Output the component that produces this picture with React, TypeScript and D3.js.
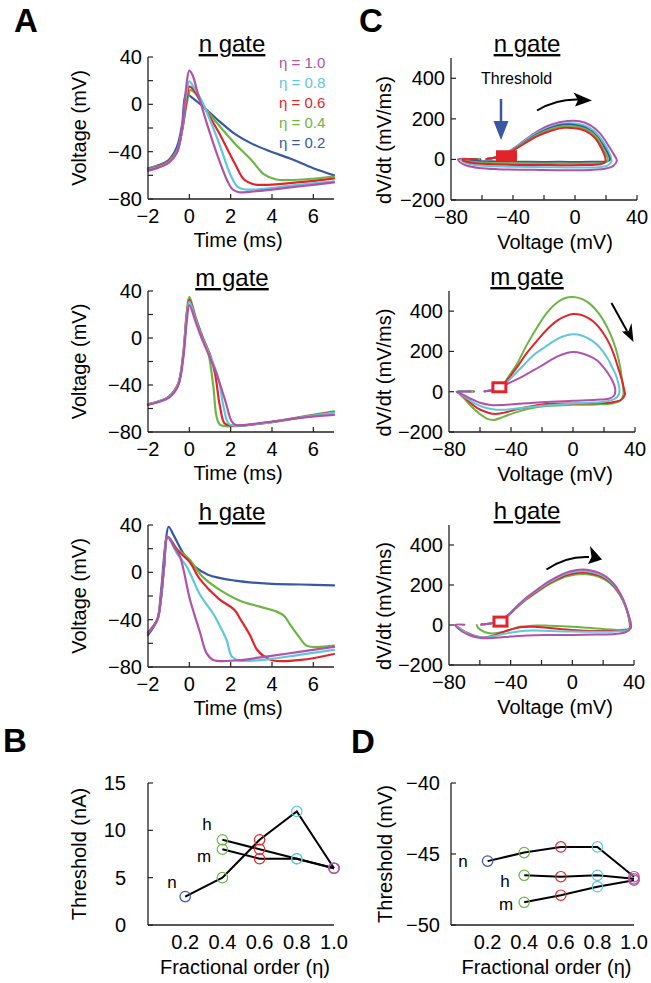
import React from 'react';
import * as d3 from 'd3';

const FONT = "'Liberation Sans', Arial, Helvetica, sans-serif";
const AX = '#231f20';
const C10 = '#b152a8';
const C08 = '#5fc7dc';
const C06 = '#e3232a';
const C04 = '#6cb544';
const C02 = '#3a57a6';

type P = [number, number];

// ---------- Panel A: voltage traces [time ms, V mV] ----------
const nGateEta10: P[] = [[-2,-56],[-1.5,-53.5],[-1,-49.5],[-0.6,-41],[-0.35,-20],[-0.18,10],[0,28.5],[0.15,25],[0.4,10],[0.9,-19],[1.4,-45],[1.85,-65],[2.1,-72],[2.4,-74.3],[3,-73.8],[4,-72],[5.5,-69],[7,-66]];
const nGateEta08: P[] = [[-2,-55.5],[-1.5,-53],[-1,-49],[-0.6,-40.5],[-0.35,-21],[-0.15,8],[0,19.5],[0.2,15],[0.6,3],[1.4,-31],[2,-60],[2.35,-70],[2.7,-72],[3.5,-71.5],[5,-68.5],[7,-65]];
const nGateEta06: P[] = [[-2,-55],[-1.5,-52.5],[-1,-48.5],[-0.6,-40],[-0.35,-22],[-0.12,5],[0,15],[0.2,12.5],[0.6,1],[1.4,-23],[2.2,-50],[2.65,-63.5],[3.1,-67.5],[3.8,-68],[5.5,-65.5],[7,-62.5]];
const nGateEta04: P[] = [[-2,-54.5],[-1.5,-52],[-1,-48],[-0.6,-39],[-0.35,-22],[-0.1,3],[0.05,12],[0.3,9],[0.7,-2],[1.4,-17],[2.2,-33],[3,-47],[3.6,-59],[4.2,-63.5],[5.5,-63.5],[7,-61]];
const nGateEta02: P[] = [[-2,-54],[-1.5,-51.5],[-1,-47],[-0.6,-36],[-0.35,-17],[-0.15,9],[0.1,6],[0.6,-1],[1.4,-13.5],[2.2,-25],[3,-33],[3.8,-39],[4.9,-46],[6,-54],[7,-60]];

const mGateEta10: P[] = [[-2,-57],[-1.5,-54.5],[-1,-51],[-0.55,-41],[-0.3,-18],[-0.12,15],[0,28],[0.3,14],[0.6,-0.3],[1.24,-27],[1.73,-52.8],[2.05,-71],[2.25,-74],[3.8,-71.5],[5.4,-68],[7,-65.5]];
const mGateEta08: P[] = [[-2,-56.5],[-1.5,-54],[-1,-50.5],[-0.55,-40],[-0.3,-16],[-0.12,19],[0,31],[0.3,16],[0.6,1],[1.0,-15],[1.4,-34],[1.65,-58],[1.9,-73],[2.2,-74.5],[3.8,-72],[5.4,-67.5],[7,-63.5]];
const mGateEta06: P[] = [[-2,-56.5],[-1.5,-54],[-1,-50],[-0.55,-39.5],[-0.3,-15],[-0.12,21],[0,32.5],[0.3,17],[0.6,2],[1.0,-14],[1.24,-30],[1.48,-58],[1.7,-72.5],[2,-74.5],[3.8,-72],[5.4,-67.5],[7,-63]];
const mGateEta04: P[] = [[-2,-56.5],[-1.5,-54],[-1,-50],[-0.55,-39],[-0.3,-14],[-0.12,23],[0,35],[0.3,18],[0.6,3],[0.92,-13],[1.16,-41],[1.32,-67],[1.5,-74],[2.2,-75],[3.8,-72],[5.4,-67],[7,-62.5]];

const hGateEta10: P[] = [[-2,-51],[-1.55,-40],[-1.38,-23],[-1.22,5],[-1.05,30],[-0.75,22],[-0.45,13],[0.03,-23],[0.52,-51],[0.84,-68.5],[1.16,-74],[2.2,-74.5],[3.8,-71],[5.4,-67],[7,-63]];
const hGateEta08: P[] = [[-2,-51],[-1.55,-40],[-1.38,-23],[-1.22,5],[-1.05,30],[-0.6,16],[-0.13,5],[0.52,-19],[1.16,-35],[1.32,-40],[1.8,-57],[2.05,-71],[2.4,-74.5],[3.8,-73.5],[5.4,-69.5],[7,-65.5]];
const hGateEta06: P[] = [[-2,-51],[-1.55,-40],[-1.38,-23],[-1.22,5],[-1.05,30],[-0.6,19],[0,9],[0.52,-6],[1.4,-22],[2.2,-32],[2.45,-39],[2.93,-53],[3.26,-65],[3.58,-70.5],[4.05,-74.5],[5.4,-74],[7,-69]];
const hGateEta04: P[] = [[-2,-51],[-1.55,-40],[-1.38,-23],[-1.22,5],[-1.05,30],[-0.6,20],[0,11],[0.6,-3],[1.4,-14],[2.45,-24],[3.4,-29],[4.2,-33],[4.6,-37],[4.87,-44],[5.35,-55.5],[5.68,-62],[7,-62]];
const hGateEta02: P[] = [[-2,-53],[-1.55,-40],[-1.38,-18],[-1.15,25],[-1.0,38.5],[-0.75,31],[-0.25,15],[0.25,5],[0.9,-2],[2.2,-7],[3.8,-9.5],[5.4,-10.3],[7,-11]];

// ---------- Panel C: phase plots [V mV, dV/dt mV/ms] ----------
const nPhaseEta10: P[] = [[-57,2],[-50,12],[-45,28],[-40,52],[-33,92],[-25,135],[-15,172],[-5,189],[3,188],[10,168],[16,130],[21,75],[25,25],[27,-5],[25,-30],[20,-45],[10,-52],[-10,-53],[-30,-51],[-50,-48],[-62,-42],[-70,-30],[-74.5,-12],[-75.5,0],[-66,1.5]];
const nPhaseEta08: P[] = [[-57,2],[-50,12],[-45,28],[-40,50],[-33,88],[-25,128],[-15,163],[-5,178],[2,176],[9,158],[15,120],[20,65],[23,15],[23.5,-10],[21,-30],[15,-38],[0,-40],[-20,-38],[-40,-36],[-55,-33],[-65,-27],[-71,-15],[-73.5,-3],[-65,1.5]];
const nPhaseEta06: P[] = [[-57,2],[-50,12],[-45,25],[-40,44],[-33,76],[-25,112],[-15,143],[-7,156],[0,154],[7,140],[13,105],[17,55],[19.5,10],[19.5,-12],[16,-24],[5,-28],[-15,-28],[-35,-27],[-55,-23],[-67,-16],[-72,-6],[-72.5,0],[-63,1.5]];
const nPhaseEta04: P[] = [[-57,2],[-50,12],[-45,26],[-40,46],[-33,80],[-25,118],[-15,152],[-7,164],[0,162],[8,145],[14,108],[18,55],[21,10],[21,-10],[18,-18],[5,-20],[-15,-20],[-35,-19],[-55,-17],[-67,-12],[-72,-4],[-72.5,0],[-62,1.5]];
const nPhaseEta02: P[] = [[-57,2],[-50,12],[-45,26],[-40,46],[-33,82],[-25,122],[-15,158],[-7,172],[0,170],[8,152],[14,115],[19,60],[22,15],[22.5,-3],[20,-10],[10,-12],[-10,-12],[-30,-12],[-50,-10],[-65,-7],[-72,-2],[-71,0],[-61,1]];

const mPhaseEta10: P[] = [[-57,2],[-50,10],[-46,22],[-42,40],[-33,74],[-25,108],[-18,140],[-10,175],[-4,192],[0,197],[6,190],[12,172],[15.4,156],[20,118],[24,74],[26.5,35],[27.3,8],[26.5,-20],[23,-35],[15,-40],[0,-45],[-20,-52],[-35,-60],[-45,-66],[-53,-66],[-60,-55],[-66,-35],[-71,-15],[-74,-3],[-75,0],[-66,1.5]];
const mPhaseEta08: P[] = [[-57,2],[-50,10],[-46,24],[-42,52],[-36,100],[-33,123],[-25,185],[-18,222],[-10,262],[-4,280],[0,285],[6,278],[12,255],[17,222],[22,170],[25,125],[27.3,90],[29,50],[30,10],[29.5,-15],[27,-35],[20,-50],[10,-55],[0,-58],[-20,-70],[-35,-82],[-45,-90],[-52,-87],[-58,-76],[-64,-55],[-69,-30],[-73,-8],[-75,0],[-65,1.5]];
const mPhaseEta06: P[] = [[-57,2],[-50,11],[-46,26],[-42,62],[-36,123],[-30,190],[-23,255],[-16,315],[-10,354],[-4,378],[0,386],[5,382],[10,365],[15,335],[20,285],[24,230],[27,170],[29.5,110],[31.5,60],[33,10],[33.5,-15],[31,-40],[25,-53],[15,-57],[0,-58],[-20,-63],[-35,-85],[-45,-105],[-51,-110],[-57,-98],[-62,-80],[-67,-50],[-71,-20],[-74,-3],[-75,0],[-64,1.5]];
const mPhaseEta04: P[] = [[-57,2],[-50,12],[-46,28],[-42,70],[-36,140],[-30,230],[-23,321],[-17,390],[-10,444],[-5,465],[0,470],[6,460],[11,436],[17,385],[22,321],[26,250],[28.5,189],[30.5,120],[31.6,58],[32.5,10],[32.5,-15],[30.5,-45],[25,-58],[15,-63],[0,-65],[-15,-70],[-27,-82],[-38,-105],[-45,-125],[-51,-140],[-56,-132],[-61,-105],[-66,-70],[-70,-35],[-73,-12],[-75,0],[-64,1.5]];

const hPhaseEta10: P[] = [[-59,2],[-53,8],[-48,18],[-42,48],[-36,93],[-30,135],[-23,176],[-16,214],[-10,241],[-4,262],[2,274],[7,277],[12,273],[17,262],[22,241],[27,205],[31,159],[34,110],[36,61],[37.8,15],[38,-13],[35,-34],[28,-45],[15,-48],[0,-50],[-16.6,-50],[-30,-53],[-40,-58],[-50,-64],[-58,-66],[-63,-60],[-67,-50],[-71,-35],[-74,-18],[-76,0],[-70,1.5]];
const hPhaseEta08: P[] = [[-59,2],[-53,8],[-48,18],[-42,47],[-36,91],[-30,132],[-23,172],[-16,209],[-10,235],[-4,256],[2,267],[7,270],[12,266],[17,255],[22,235],[27,200],[31,155],[34,107],[36,60],[37.5,15],[37.8,-15],[35,-28],[28,-32],[15,-34],[0,-33],[-15,-30],[-25,-28],[-35,-32],[-45,-45],[-52,-58],[-58,-63],[-64,-55],[-69,-38],[-73,-18],[-76,0]];
const hPhaseEta06: P[] = [[-59,2],[-53,8],[-48,18],[-42,46],[-36,89],[-30,129],[-23,168],[-16,204],[-10,229],[-4,249],[2,259],[7,262],[12,258],[17,248],[22,229],[27,195],[31,151],[34,104],[36,58],[37.3,15],[37.5,-18],[34,-28],[25,-30],[15,-30],[0,-25],[-15,-15],[-25,-9],[-32,-10],[-38,-18],[-45,-35],[-52,-55],[-58,-62],[-63,-55],[-68,-40],[-72,-22],[-75,-6],[-76,0]];
const hPhaseEta04: P[] = [[-59,2],[-53,8],[-48,18],[-42,45],[-36,87],[-30,126],[-23,164],[-16,199],[-10,223],[-4,242],[2,252],[7,255],[12,251],[17,241],[22,223],[27,190],[31,147],[34,101],[36,56],[37,15],[37.2,-15],[33,-24],[25,-22],[10,-14],[0,-9],[-15,-4],[-23,-2],[-28,-5],[-33,-8],[-38,-18],[-45,-35],[-52,-42],[-57,-35],[-61,-15],[-62,0]];

// ---------- Panels B & D ----------
const etaOrders = [0.2, 0.4, 0.6, 0.8, 1.0];
const etaColors = [C02, C04, C06, C08, C10];
const legendLabels = ['\u03b7 = 1.0', '\u03b7 = 0.8', '\u03b7 = 0.6', '\u03b7 = 0.4', '\u03b7 = 0.2'];
const legendColors = [C10, C08, C06, C04, C02];

const threshNA_n = [3, 5, 9, 12, 6];
const threshNA_h = [null, 9, 8, 7, 6];
const threshNA_m = [null, 8, 7, 7, 6];
const threshMV_n = [-45.5, -44.9, -44.5, -44.5, -46.6];
const threshMV_h = [null, -46.5, -46.6, -46.5, -46.75];
const threshMV_m = [null, -48.4, -47.9, -47.3, -46.85];

const timeTicks = [-2, 0, 2, 4, 6];
const voltTicks = [-80, -60, -40, -20, 0, 20, 40];
const voltLabels = [-80, -40, 0, 40];
const phaseXTicks = [-80, -60, -40, -20, 0, 20, 40];
const phaseXLabels = [-80, -40, 0, 40];
const phaseYTicks = [-200, 0, 200, 400];
const etaTickLabels = [0.2, 0.4, 0.6, 0.8, 1.0];
const nAYTicks = [0, 5, 10, 15];
const mVYTicks = [-50, -45, -40];

// threshold markers in phase plots: [V, dV/dt]
const thresholdMarks: P[] = [[-44.2, 18], [-47.5, 22], [-46.6, 17]];

const FRAC_LABEL = 'Fractional order (\u03b7)';

function fmt(v: number) {
  return v < 0 ? '\u2212' + Math.abs(v) : String(v);
}

type Lin = d3.ScaleLinear<number, number>;

function Axes(props: {
  xs: Lin; ys: Lin; xTicks: number[]; xLabels: number[]; yTicks: number[]; yLabels: number[];
  xFmt?: (v: number) => string; yGap?: number; xTickMarks?: boolean; xLabelDy?: number;
}) {
  const { xs, ys, xTicks, xLabels, yTicks, yLabels } = props;
  const xFmt = props.xFmt || fmt;
  const yGap = props.yGap ?? 6;
  const [xa, xb] = xs.range();
  const [yb, ya] = ys.range();
  const dy = props.xLabelDy ?? 24;
  return (
    <g fontFamily={FONT} fontSize={20} fill="#000">
      <line x1={xa} x2={xa} y1={ya} y2={yb} stroke={AX} strokeWidth={1.3} />
      <line x1={xa} x2={xb} y1={yb} y2={yb} stroke={AX} strokeWidth={1.3} />
      {yTicks.map((v) => (
        <line key={'yt' + v} x1={xa} x2={xa + 5} y1={ys(v)} y2={ys(v)} stroke={AX} strokeWidth={1.2} />
      ))}
      {props.xTickMarks !== false && xTicks.map((v) => (
        <line key={'xt' + v} x1={xs(v)} x2={xs(v)} y1={yb} y2={yb - 5} stroke={AX} strokeWidth={1.2} />
      ))}
      {yLabels.map((v) => (
        <text key={'yl' + v} x={xa - yGap} y={ys(v) + 7} textAnchor="end">{fmt(v)}</text>
      ))}
      {xLabels.map((v) => (
        <text key={'xl' + v} x={xs(v)} y={yb + dy} textAnchor="middle">{xFmt(v)}</text>
      ))}
    </g>
  );
}

function Title({ x, y, text }: { x: number; y: number; text: string }) {
  return (
    <text x={x} y={y} textAnchor="middle" fontFamily={FONT} fontSize={24} textDecoration="underline">{text}</text>
  );
}

function YLabel({ x, y, text }: { x: number; y: number; text: string }) {
  return (
    <text transform={`translate(${x},${y}) rotate(-90)`} textAnchor="middle" fontFamily={FONT} fontSize={20}>{text}</text>
  );
}

function XLabel({ x, y, text }: { x: number; y: number; text: string }) {
  return <text x={x} y={y} textAnchor="middle" fontFamily={FONT} fontSize={20}>{text}</text>;
}

function Traces({ xs, ys, traces, width }: { xs: Lin; ys: Lin; traces: [P[], string][]; width: number }) {
  const line = d3.line<P>().x((d) => xs(d[0])).y((d) => ys(d[1])).curve(d3.curveCatmullRom.alpha(0.5));
  return (
    <g fill="none" strokeLinejoin="round" strokeLinecap="round">
      {traces.map(([data, color], i) => (
        <path key={i} d={line(data) || ''} stroke={color} strokeWidth={width} />
      ))}
    </g>
  );
}

function TimePanel({ yTop, yBot, title, traces, legend }: { yTop: number; yBot: number; title: string; traces: [P[], string][]; legend?: boolean }) {
  const xs = d3.scaleLinear().domain([-2, 7]).range([148, 334]);
  const ys = d3.scaleLinear().domain([-80, 40]).range([yBot, yTop]);
  return (
    <g>
      <Title x={232} y={yTop - 5} text={title} />
      <Traces xs={xs} ys={ys} traces={traces} width={2.2} />
      <Axes xs={xs} ys={ys} xTicks={timeTicks.slice(1)} xLabels={timeTicks} yTicks={voltTicks} yLabels={voltLabels} />
      <YLabel x={86} y={(yTop + yBot) / 2} text="Voltage (mV)" />
      <XLabel x={238} y={yBot + 48} text="Time (ms)" />
      {legend && legendLabels.map((t, i) => (
        <text key={t} x={279} y={68 + i * 20} fontFamily={FONT} fontSize={15} fill={legendColors[i]}>{t}</text>
      ))}
    </g>
  );
}

function PhasePanel({ x0, x1, yTop, yBot, title, traces, mark, filledMark, children }: {
  x0: number; x1: number; yTop: number; yBot: number; title: string; traces: [P[], string][]; mark: P; filledMark?: boolean; children?: any;
}) {
  const xs = d3.scaleLinear().domain([-80, 40]).range([x0, x1]);
  const ys = d3.scaleLinear().domain([-200, 500]).range([yBot, yTop]);
  const mx = xs(mark[0]);
  const my = ys(mark[1]);
  return (
    <g>
      <Title x={527} y={yTop - 6} text={title} />
      <Traces xs={xs} ys={ys} traces={traces} width={2} />
      {filledMark ? (
        <rect x={mx - 10.5} y={my - 5.5} width={21} height={11} fill={C06} />
      ) : (
        <rect x={mx - 6.5} y={my - 4.5} width={13} height={9} fill="#fff" stroke={C06} strokeWidth={3} />
      )}
      <Axes xs={xs} ys={ys} xTicks={phaseXTicks.slice(1)} xLabels={phaseXLabels} yTicks={phaseYTicks} yLabels={phaseYTicks} />
      <YLabel x={391} y={(yTop + yBot) / 2 + 11} text="dV/dt (mV/ms)" />
      <XLabel x={555} y={yBot + 49} text="Voltage (mV)" />
      {children}
    </g>
  );
}

function ThresholdPanel({ x0, x1, yTop, yBot, domain, yTicks, yGap, series, labels, ylabel }: {
  x0: number; x1: number; yTop: number; yBot: number; domain: [number, number]; yTicks: number[]; yGap: number;
  series: (number | null)[][]; labels: { t: string; x: number; y: number }[]; ylabel: string;
}) {
  const xs = d3.scaleLinear().domain([0, 1]).range([x0, x1]);
  const ys = d3.scaleLinear().domain(domain).range([yBot, yTop]);
  const line = d3.line<[number, number | null]>()
    .defined((d) => d[1] !== null)
    .x((d) => xs(d[0]))
    .y((d) => ys(d[1] as number));
  return (
    <g>
      <Axes xs={xs} ys={ys} xTicks={[]} xLabels={etaTickLabels} yTicks={yTicks} yLabels={yTicks}
        xFmt={(v) => v.toFixed(1)} yGap={yGap} xTickMarks={false} />
      {series.map((s, k) => (
        <path key={'l' + k} d={line(etaOrders.map((e, i) => [e, s[i]] as [number, number | null])) || ''}
          fill="none" stroke="#000" strokeWidth={2} />
      ))}
      {series.map((s, k) => etaOrders.map((e, i) => s[i] === null ? null : (
        <circle key={'c' + k + '-' + i} cx={xs(e)} cy={ys(s[i] as number)} r={5.2} fill="none" stroke={etaColors[i]} strokeWidth={1.2} />
      )))}
      {labels.map((l) => (
        <text key={l.t} x={l.x} y={l.y} textAnchor="middle" fontFamily={FONT} fontSize={17}>{l.t}</text>
      ))}
      <YLabel x={86 + (x0 > 300 ? 306 : 0)} y={(yTop + yBot) / 2} text={ylabel} />
      <XLabel x={(x0 + x1) / 2 + 4} y={yBot + 49} text={FRAC_LABEL} />
    </g>
  );
}

function PanelLetter({ x, y, t }: { x: number; y: number; t: string }) {
  return <text x={x} y={y} fontFamily={FONT} fontSize={33} fontWeight="bold">{t}</text>;
}

export default function App() {
  return (
    <svg width={651} height={983} viewBox="0 0 651 983" style={{ position: 'absolute', left: 0, top: 0, background: '#fff' }}>
      <rect x={0} y={0} width={651} height={983} fill="#fff" />
      <PanelLetter x={14} y={32} t="A" />
      <PanelLetter x={359} y={32} t="C" />
      <PanelLetter x={3} y={752} t="B" />
      <PanelLetter x={351} y={753} t="D" />

      <TimePanel yTop={57} yBot={199} title="n gate" legend
        traces={[[nGateEta02, C02], [nGateEta04, C04], [nGateEta06, C06], [nGateEta08, C08], [nGateEta10, C10]]} />
      <TimePanel yTop={291} yBot={432} title="m gate"
        traces={[[mGateEta04, C04], [mGateEta06, C06], [mGateEta08, C08], [mGateEta10, C10]]} />
      <TimePanel yTop={525} yBot={667} title="h gate"
        traces={[[hGateEta02, C02], [hGateEta04, C04], [hGateEta06, C06], [hGateEta08, C08], [hGateEta10, C10]]} />

      <PhasePanel x0={451} x1={637} yTop={58} yBot={200} title="n gate" mark={thresholdMarks[0]} filledMark
        traces={[[nPhaseEta10, C10], [nPhaseEta08, C08], [nPhaseEta02, C02], [nPhaseEta04, C04], [nPhaseEta06, C06]]}>
        <text x={481} y={84} fontFamily={FONT} fontSize={16}>Threshold</text>
        <line x1={501} y1={99} x2={501} y2={126} stroke={C02} strokeWidth={2.5} />
        <polygon points="493.5,121 508.5,121 501,140" fill={C02} />
        <path d="M537,110.5 Q556,99 578,99.5" fill="none" stroke="#000" strokeWidth={2} />
        <polygon points="592,100.5 573.5,92.5 578,100 575,106.5" fill="#000" />
      </PhasePanel>
      <PhasePanel x0={449} x1={635} yTop={291} yBot={432} title="m gate" mark={thresholdMarks[1]}
        traces={[[mPhaseEta04, C04], [mPhaseEta06, C06], [mPhaseEta08, C08], [mPhaseEta10, C10]]}>
        <line x1={611.5} y1={303} x2={627} y2={331} stroke="#000" strokeWidth={2} />
        <polygon points="633.5,342 622,331.5 628.5,331 631.5,323" fill="#000" />
      </PhasePanel>
      <PhasePanel x0={449} x1={634} yTop={525} yBot={665} title="h gate" mark={thresholdMarks[2]}
        traces={[[hPhaseEta04, C04], [hPhaseEta06, C06], [hPhaseEta08, C08], [hPhaseEta10, C10]]}>
        <path d="M546.5,569.5 Q566,556 589,557" fill="none" stroke="#000" strokeWidth={2} />
        <polygon points="602,559.5 590,546 591.5,557 588,564" fill="#000" />
      </PhasePanel>

      <ThresholdPanel x0={148} x1={334} yTop={783} yBot={925} domain={[0, 15]} yTicks={nAYTicks} yGap={22}
        series={[threshNA_n, threshNA_h, threshNA_m]} ylabel="Threshold (nA)"
        labels={[{ t: 'n', x: 172, y: 888 }, { t: 'm', x: 204, y: 862 }, { t: 'h', x: 207, y: 830 }]} />
      <ThresholdPanel x0={451} x1={634} yTop={783} yBot={925} domain={[-50, -40]} yTicks={mVYTicks} yGap={11}
        series={[threshMV_n, threshMV_h, threshMV_m]} ylabel="Threshold (mV)"
        labels={[{ t: 'n', x: 463, y: 867 }, { t: 'h', x: 505, y: 887 }, { t: 'm', x: 506, y: 910 }]} />
    </svg>
  );
}
